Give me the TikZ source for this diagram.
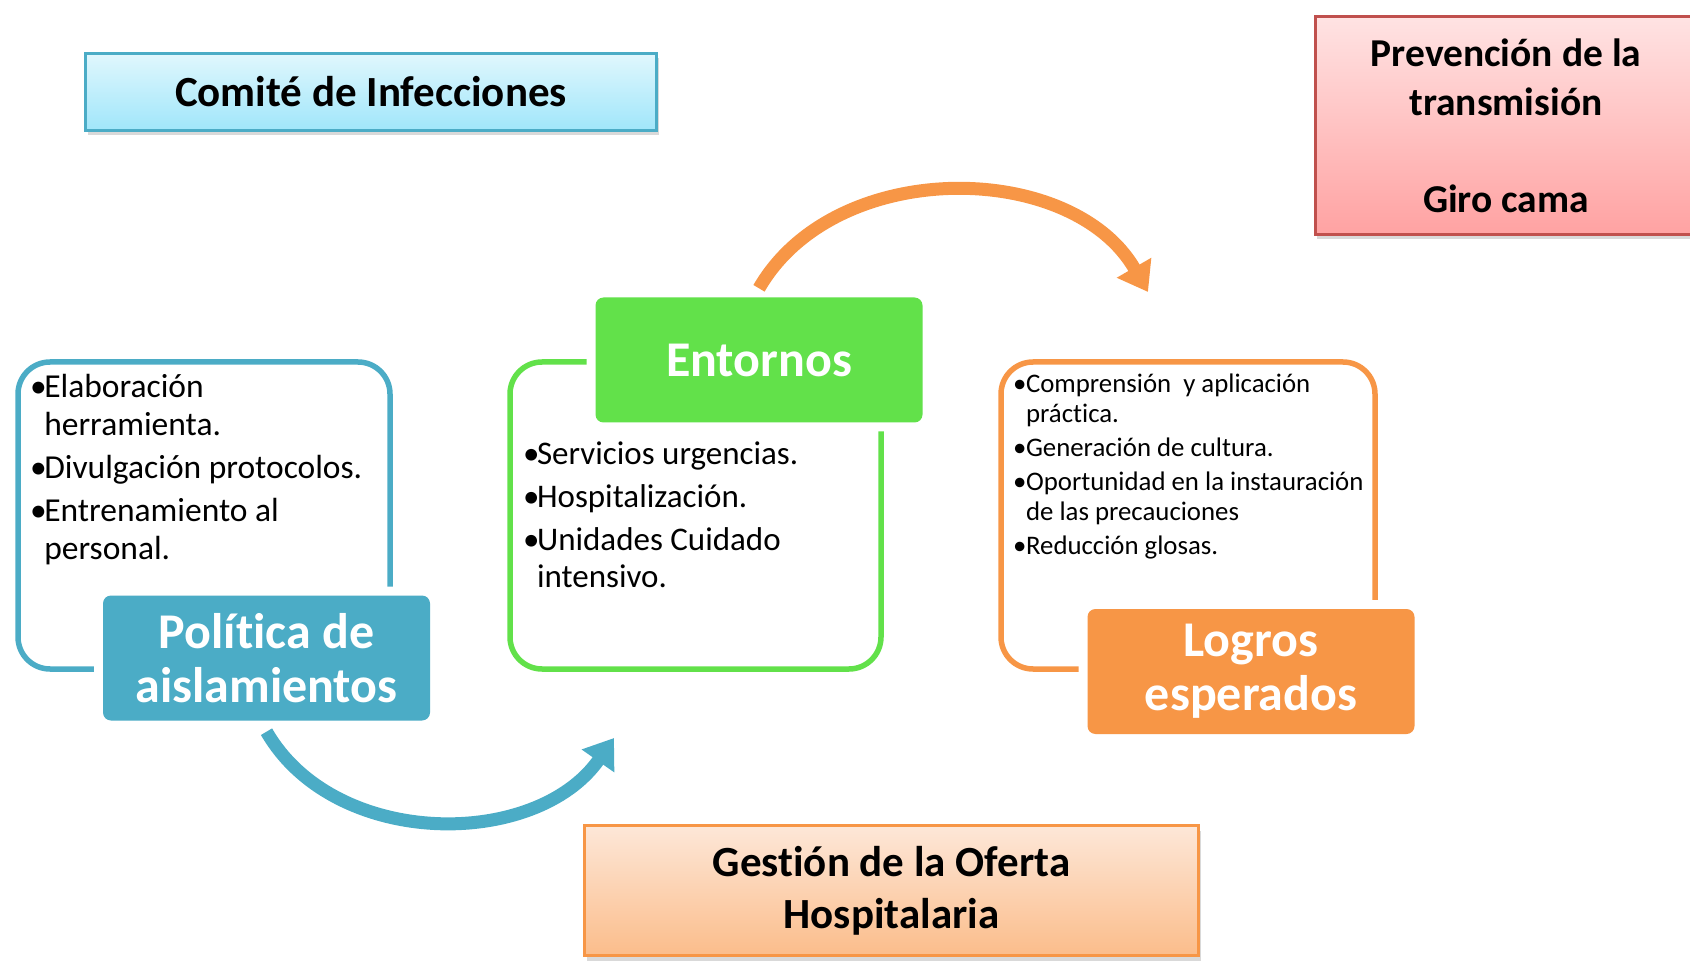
\documentclass[tikz,border=0pt]{standalone}
\usepackage{fontspec}
\setmainfont{Carlito}[Ligatures=NoCommon]
\usepackage{tikz}
\usetikzlibrary{arrows.meta,shadows}

\definecolor{polblue}{HTML}{4BACC6}
\definecolor{entgreen}{HTML}{62E14A}
\definecolor{logorange}{HTML}{F79646}
\definecolor{prevred}{HTML}{C0504D}
\definecolor{comtop}{HTML}{E0F7FD}
\definecolor{combot}{HTML}{A0E6FA}
\definecolor{prevtop}{HTML}{FFE3E3}
\definecolor{prevbot}{HTML}{FFA2A2}
\definecolor{gestop}{HTML}{FDE7D8}
\definecolor{gesbot}{HTML}{FBBD8B}

\newcommand{\itm}[1][0.42em]{\makebox[#1][l]{•}}
\newcommand{\cnt}[1][0.42em]{\makebox[#1]{}}

\begin{document}
\begin{tikzpicture}[x=1pt,y=-1pt,
		title/.style={draw, line width=3pt, align=center, drop shadow={shadow xshift=2pt, shadow yshift=-5pt, opacity=0.3}},
		frame/.style={draw, line width=5.5pt, rounded corners=32pt, minimum height=307pt},
		tag/.style={fill=#1, text=white, rounded corners=8pt, minimum width=327pt, minimum height=125pt, align=center,
			font=\bfseries\fontsize{50}{54}\selectfont, preaction={draw=white, line width=18pt}},
		items/.style={anchor=north west, inner sep=0pt, align=left},
		turn/.style={line width=13pt, -{Triangle[length=28pt, width=38pt]}}]
		\useasboundingbox (0,0) rectangle (1690,965);
		\node[title, draw=polblue, top color=comtop, bottom color=combot, minimum width=571pt, minimum height=77pt,
			font=\bfseries\fontsize{43}{52}\selectfont] (comite) at (371,92) {Comité de Infecciones};
		\node[title, draw=prevred, top color=prevtop, bottom color=prevbot, minimum width=382pt, minimum height=218pt,
			font=\bfseries\fontsize{39.5}{49}\selectfont] (prevencion) at (1506,125.5) {Prevención de la\\transmisión\\[48pt]Giro cama};
		\node[title, draw=logorange, top color=gestop, bottom color=gesbot, minimum width=614pt, minimum height=130pt,
			font=\bfseries\fontsize{43}{52}\selectfont] (gestion) at (891.5,890.5) {Gestión de la Oferta\\Hospitalaria};
		\node[frame, draw=polblue,   minimum width=372pt] (polframe) at (204,515.5)    {};
		\node[frame, draw=entgreen,  minimum width=371pt] (entframe) at (695.5,515.5)  {};
		\node[frame, draw=logorange, minimum width=374pt] (logframe) at (1188,515.5)   {};
		\node[tag=polblue]   (politica) at (266.5,658) {Política de\\aislamientos};
		\node[tag=entgreen]  (entornos) at (759,360)   {Entornos};
		\node[tag=logorange] (logros)   at (1251,671.5) {Logros\\esperados};
		\node[items, font=\fontsize{33.5}{38}\selectfont] (politems) at (30,374)
			{\itm Elaboración\\\cnt herramienta.\\[5pt]\itm Divulgación protocolos.\\[5pt]\itm Entrenamiento al\\\cnt personal.};
		\node[items, font=\fontsize{33}{37}\selectfont] (entitems) at (523,442)
			{\itm Servicios urgencias.\\[6pt]\itm Hospitalización.\\[6pt]\itm Unidades Cuidado\\\cnt intensivo.};
		\node[items, font=\fontsize{26.8}{30}\selectfont] (logitems) at (1013,374)
			{\itm[0.48em]Comprensión~ y aplicación\\\cnt[0.48em]práctica.\\[4pt]\itm[0.48em]Generación de cultura.\\[4pt]%
			\itm[0.48em]Oportunidad en la instauración\\\cnt[0.48em]de las precauciones\\[4pt]\itm[0.48em]Reducción glosas.};
		\coordinate (bluetip)   at (614,738);
		\coordinate (orangetip) at (1148,292);
		\path
			([yshift=-11pt]politica.south) edge [turn, draw=polblue, out=-60, in=-125, looseness=1.0]  (bluetip)
			([yshift=9pt]entornos.north)   edge [turn, draw=logorange, out=60, in=120, looseness=1.0] (orangetip);
	\end{tikzpicture}
\end{document}
